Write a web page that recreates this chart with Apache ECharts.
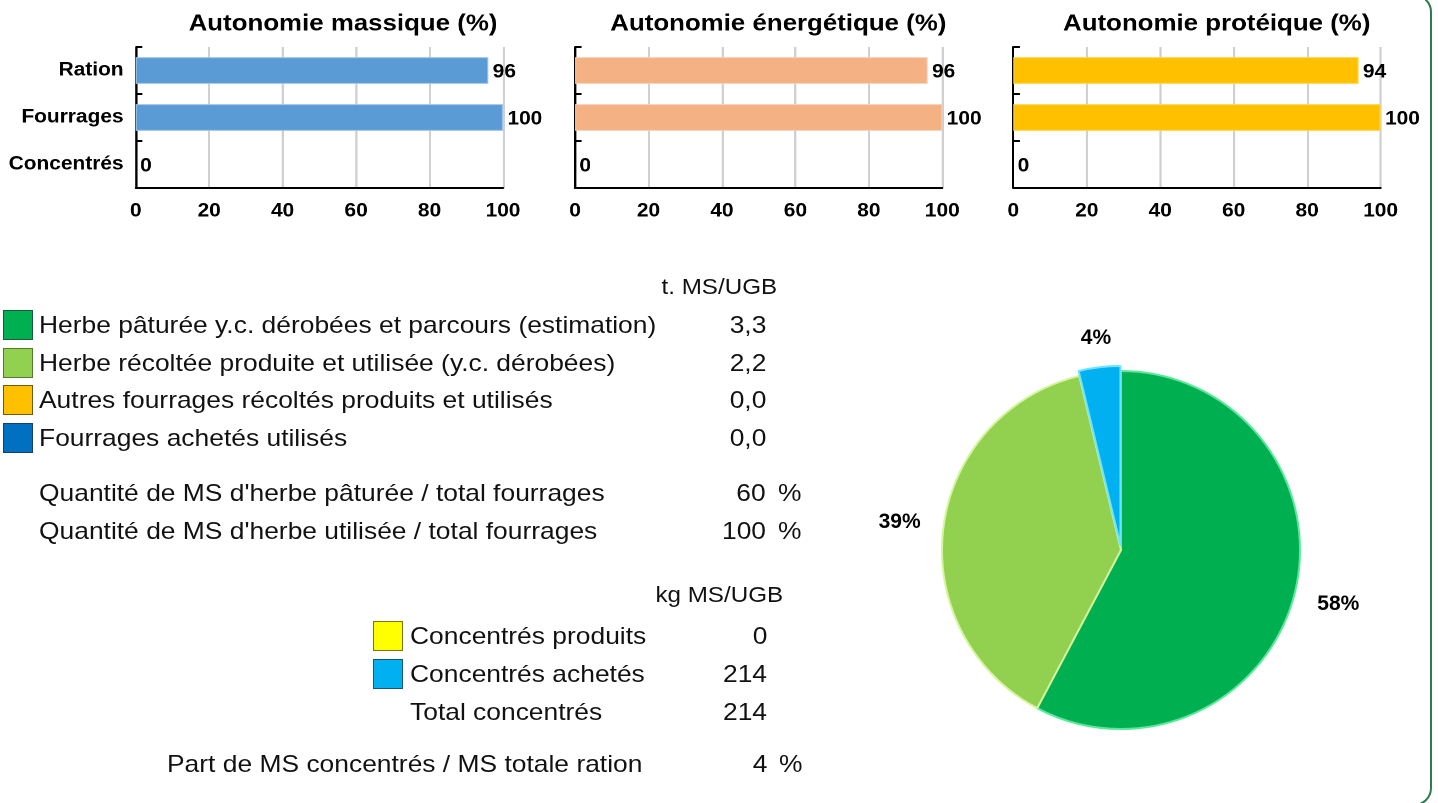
<!DOCTYPE html>
<html lang="fr">
<head>
<meta charset="utf-8">
<title>Autonomie alimentaire</title>
<script src="https://cdn.jsdelivr.net/npm/echarts@6/dist/echarts.min.js"></script>
<style>
  html, body { margin: 0; padding: 0; background: #fff; overflow: hidden; }
  body { width: 1438px; height: 803px; position: relative; font-family: 'Liberation Sans', Arial, Helvetica, sans-serif; }
  #frame { position: absolute; left: -30px; top: -6px; width: 1462px; height: 812px; box-sizing: border-box; border: 2px solid #2f7d4f; border-radius: 18px; }
  /* the report's text is drawn about 10% wider than Arial, so the bar panels are stretched */
  #bars { position: absolute; left: 0; top: 0; width: 1308px; height: 250px; transform: scaleX(1.1); transform-origin: 0 0; }
  #pie { position: absolute; left: 0; top: 0; width: 1438px; height: 803px; }
  #table { position: absolute; left: 0; top: 0; width: 1438px; height: 803px; }
  .t { position: absolute; height: 28px; line-height: 28px; font-size: 24px; color: #111; white-space: nowrap; transform: scaleX(1.1); }
  .t.l { transform-origin: 0 50%; }
  .t.r { transform-origin: 100% 50%; text-align: right; }
  .t.h { font-size: 22px; }
  .sq { position: absolute; width: 30px; height: 30px; box-sizing: border-box; border: 1.5px solid; }
</style>
</head>
<body>
<div id="frame"></div>
<div id="bars"></div>
<div id="pie"></div>
<div id="table"></div>
<script>
// ---- data ----
const categories = ['Ration', 'Fourrages', 'Concentrés'];
const autonomieTitles = ['Autonomie massique (%)', 'Autonomie énergétique (%)', 'Autonomie protéique (%)'];
const autonomieMassique = [96, 100, 0];
const autonomieEnergetique = [96, 100, 0];
const autonomieProteique = [94, 100, 0];
const xTicks = [0, 20, 40, 60, 80, 100];

const fourrageNames = [
  'Herbe pâturée y.c. dérobées et parcours (estimation)',
  'Herbe récoltée produite et utilisée (y.c. dérobées)',
  'Autres fourrages récoltés produits et utilisés',
  'Fourrages achetés utilisés'
];
const fourrageTonnes = [3.3, 2.2, 0, 0];
const herbeRatioNames = [
  "Quantité de MS d'herbe pâturée / total fourrages",
  "Quantité de MS d'herbe utilisée / total fourrages"
];
const herbeRatioPct = [60, 100];
const concentreNames = ['Concentrés produits', 'Concentrés achetés'];
const concentreKg = [0, 214];
const totalConcentresKg = 214;
const partConcentresPct = 4;
const pieTitle = 'Aliments consommés t. MS/UGB';

// ---- styles ----
const FONT = "'Liberation Sans', Arial, Helvetica, sans-serif";
const barColors = ['#5b9bd5', '#f4b183', '#ffc000'];
const barEdges = ['#9cc2e8', '#f8cdb0', '#ffd54d'];
const fourrageColors = ['#00b050', '#92d050', '#ffc000', '#0070c0'];
const fourrageEdges = ['#1d5c38', '#55792f', '#6e5a14', '#16406a'];
const fourragePieEdges = ['#5ce89b', '#d5f59d', '#ffe08a', '#66a8e0'];
const concentreColors = ['#ffff00', '#00b0f0'];
const concentreEdges = ['#77771a', '#1d5670'];
const concentrePieEdges = ['#ffff99', '#6ee3ff'];

// ---- bar panels (drawn in a box stretched by S) ----
const S = 1.1;
const panelLeft = [135.7, 575, 1013.3];
const panelWidth = 367.3;
const titleCenter = [343, 778.3, 1216.7];
const panelValues = [autonomieMassique, autonomieEnergetique, autonomieProteique];

const boldText = { fontSize: 19, fontWeight: 'bold', color: '#000', fontFamily: FONT };

const barChart = echarts.init(document.getElementById('bars'), null, { devicePixelRatio: 2 });
barChart.setOption({
  animation: false,
  grid: panelLeft.map(l => ({ left: l / S, top: 47, width: panelWidth / S, height: 141, containLabel: false, outerBoundsMode: 'none' })),
  xAxis: panelLeft.map((l, i) => ({
    gridIndex: i,
    type: 'value',
    min: xTicks[0],
    max: xTicks[xTicks.length - 1],
    interval: xTicks[1] - xTicks[0],
    axisLine: { show: true, lineStyle: { color: '#000', width: 2 } },
    axisTick: { show: false },
    splitLine: { show: true, lineStyle: { color: '#d0d0d0', width: 2 } },
    axisLabel: Object.assign({ margin: 14 }, boldText)
  })),
  yAxis: panelLeft.map((l, i) => ({
    gridIndex: i,
    type: 'category',
    data: categories,
    inverse: true,
    axisLine: { show: true, lineStyle: { color: '#000', width: 2 } },
    axisTick: { show: true, inside: true, length: 6, lineStyle: { color: '#000', width: 2 } },
    splitLine: { show: false },
    axisLabel: Object.assign({ show: i === 0, margin: 11 }, boldText)
  })),
  series: panelValues.map((vals, i) => ({
    type: 'bar',
    xAxisIndex: i,
    yAxisIndex: i,
    data: vals.map(v => (v > 0 ? v : { value: v, itemStyle: { borderWidth: 0 } })),
    barWidth: '57%',
    itemStyle: { color: barColors[i], borderColor: barEdges[i], borderWidth: 1 },
    label: Object.assign({ show: true, position: 'right', distance: 4, offset: [0, 2] }, boldText)
  })),
  graphic: autonomieTitles.map((t, i) => ({
    type: 'text',
    x: titleCenter[i] / S,
    y: 24,
    style: { text: t, fontSize: 23.5, fontWeight: 'bold', fontFamily: FONT, fill: '#000', align: 'center', verticalAlign: 'middle' }
  })).concat([{
    type: 'text',
    x: 1123 / S,
    y: 278,
    style: { text: pieTitle, fontSize: 23, fontWeight: 'bold', fontFamily: FONT, fill: '#000', align: 'center', verticalAlign: 'middle' }
  }])
});

// ---- pie ----
const pieCenter = [1121, 550];
const pieRadius = 179;
const pieOffset = 5;
const pieData = [];
fourrageNames.forEach((n, i) => {
  if (fourrageTonnes[i] > 0) pieData.push({ name: n, value: fourrageTonnes[i], itemStyle: { color: fourrageColors[i], borderColor: fourragePieEdges[i] } });
});
concentreNames.forEach((n, i) => {
  if (concentreKg[i] > 0) pieData.push({ name: n, value: concentreKg[i] / 1000, selected: true, itemStyle: { color: concentreColors[i], borderColor: concentrePieEdges[i] } });
});
const pieTotal = pieData.reduce((s, d) => s + d.value, 0);
const midAngles = [];
let acc = 0;
pieData.forEach(d => { midAngles.push((acc + d.value / 2) / pieTotal * 2 * Math.PI); acc += d.value; });

const pieChart = echarts.init(document.getElementById('pie'), null, { devicePixelRatio: 2 });
pieChart.setOption({
  animation: false,
  series: [{
    // the slices, concentrates pulled out a little
    type: 'pie',
    center: pieCenter,
    radius: pieRadius,
    startAngle: 90,
    clockwise: true,
    selectedMode: 'single',
    selectedOffset: pieOffset,
    data: pieData,
    itemStyle: { borderWidth: 2 },
    emphasis: { disabled: true },
    label: { show: false },
    labelLine: { show: false }
  }, {
    // the percentage labels only
    type: 'pie',
    silent: true,
    center: pieCenter,
    radius: pieRadius,
    startAngle: 90,
    clockwise: true,
    data: pieData.map(d => ({ name: d.name, value: d.value })),
    itemStyle: { color: 'rgba(0,0,0,0)', borderWidth: 0 },
    emphasis: { disabled: true },
    label: {
      show: true,
      position: 'outside',
      formatter: p => Math.round(p.percent) + '%',
      fontSize: 21, fontWeight: 'bold', color: '#000', fontFamily: FONT
    },
    labelLine: { show: false },
    labelLayout: function (p) {
      const a = midAngles[p.dataIndex];
      const dx = Math.sin(a), dy = -Math.cos(a);
      const r = pieRadius + 22 + Math.abs(dx) * p.labelRect.width / 2 + Math.abs(dy) * p.labelRect.height / 2;
      return { x: pieCenter[0] + dx * r, y: pieCenter[1] + dy * r, align: 'center', verticalAlign: 'middle' };
    }
  }]
});

// ---- table ----
const table = document.getElementById('table');
function addText(txt, x, yc, align, extra) {
  const d = document.createElement('div');
  d.className = 't ' + (align === 'right' ? 'r' : 'l') + (extra ? ' ' + extra : '');
  d.textContent = txt;
  d.style.top = (yc - 14) + 'px';
  if (align === 'right') d.style.right = (1438 - x) + 'px';
  else d.style.left = x + 'px';
  table.appendChild(d);
}
function addSquare(x, yc, fill, edge) {
  const d = document.createElement('div');
  d.className = 'sq';
  d.style.left = x + 'px';
  d.style.top = (yc - 15.5) + 'px';
  d.style.background = fill;
  d.style.borderColor = edge;
  table.appendChild(d);
}
const comma = v => v.toFixed(1).replace('.', ',');

addText('t. MS/UGB', 777, 287, 'right', 'h');
const fourrageRows = [325, 363, 400, 438];
fourrageNames.forEach((n, i) => {
  addSquare(3, fourrageRows[i], fourrageColors[i], fourrageEdges[i]);
  addText(n, 39, fourrageRows[i], 'left');
  addText(comma(fourrageTonnes[i]), 766, fourrageRows[i], 'right');
});
const ratioRows = [493, 531];
herbeRatioNames.forEach((n, i) => {
  addText(n, 39, ratioRows[i], 'left');
  addText(String(herbeRatioPct[i]), 766, ratioRows[i], 'right');
  addText('%', 778, ratioRows[i], 'left');
});
addText('kg MS/UGB', 783, 595, 'right', 'h');
const concentreRows = [636, 674];
concentreNames.forEach((n, i) => {
  addSquare(373, concentreRows[i], concentreColors[i], concentreEdges[i]);
  addText(n, 410, concentreRows[i], 'left');
  addText(String(concentreKg[i]), 767, concentreRows[i], 'right');
});
addText('Total concentrés', 410, 712, 'left');
addText(String(totalConcentresKg), 767, 712, 'right');
addText('Part de MS concentrés / MS totale ration', 167, 764, 'left');
addText(String(partConcentresPct), 767, 764, 'right');
addText('%', 779, 764, 'left');
</script>
</body>
</html>
